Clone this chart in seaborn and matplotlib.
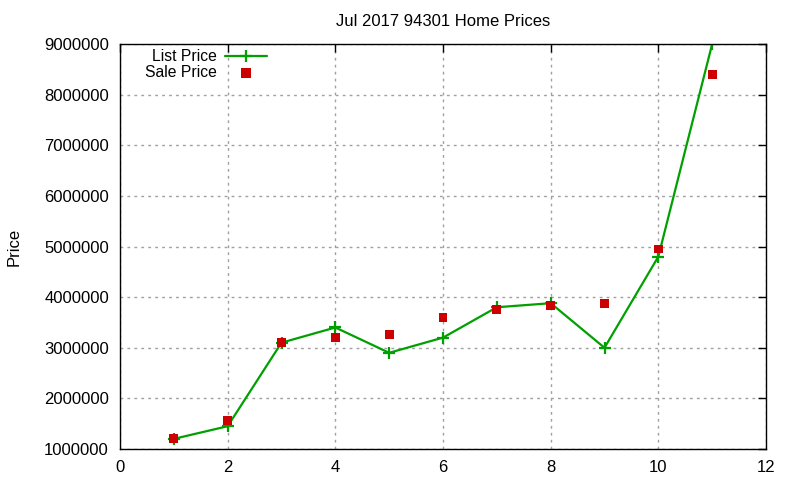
import matplotlib
matplotlib.use("Agg")
import matplotlib.pyplot as plt
import seaborn as sns
import pandas as pd

months = [1, 2, 3, 4, 5, 6, 7, 8, 9, 10, 11]
list_price = [1200000, 1450000, 3100000, 3400000, 2900000, 3200000, 3800000, 3880000, 3000000, 4800000, 9000000]
sale_price = [1200000, 1560000, 3110000, 3200000, 3260000, 3600000, 3760000, 3840000, 3880000, 4950000, 8400000]
x_ticks = [0, 2, 4, 6, 8, 10, 12]
y_ticks = [1000000, 2000000, 3000000, 4000000, 5000000, 6000000, 7000000, 8000000, 9000000]

sns.set_style("white")
plt.rcParams['font.family'] = ['Liberation Sans', 'DejaVu Sans']
plt.rcParams['text.color'] = 'black'
plt.rcParams['axes.labelcolor'] = 'black'

df = pd.DataFrame({"x": months, "list": list_price, "sale": sale_price})

fig = plt.figure(figsize=(8, 4.8), dpi=100)
ax = fig.add_axes([0.15, 0.0646, 0.8075, 0.8437])

green = "#00a000"
red = "#cc0000"
sns.lineplot(data=df, x="x", y="list", ax=ax, color=green, linewidth=1.6,
             marker="+", markersize=8, markeredgewidth=1.6, markeredgecolor=green,
             label="List Price")
sns.scatterplot(data=df, x="x", y="sale", ax=ax, color=red, marker="s", s=40,
                edgecolor="none", linewidth=0, label="Sale Price", zorder=3)

ax.set_xlim(0, 12)
ax.set_ylim(1000000, 9000000)
ax.set_xticks(x_ticks)
ax.set_yticks(y_ticks)
ax.set_xticklabels([str(t) for t in x_ticks])
ax.set_yticklabels([str(t) for t in y_ticks])
ax.tick_params(direction="in", length=6, width=1, top=True, right=True,
               labelsize=12, colors="black", pad=8)
ax.grid(True, color="#a0a0a0", linestyle=(0, (2, 3)), linewidth=1)
for s in ax.spines.values():
    s.set_color("black")
    s.set_linewidth(1)
ax.set_xlabel("")
ax.set_ylabel("Price", fontsize=12, labelpad=16, color="black")
ax.set_title("Jul 2017 94301 Home Prices", fontsize=12, pad=13, color="black")

leg = ax.legend(loc="upper left", bbox_to_anchor=(0.02, 1.018), frameon=False,
                markerfirst=False, fontsize=11.3, handlelength=2.65,
                labelspacing=0.05, borderpad=0.3, handletextpad=0.5)
for t in leg.get_texts():
    t.set_color("black")
h = leg.legend_handles[1]
if hasattr(h, "set_sizes"):
    h.set_sizes([60])
if hasattr(h, "set_markersize"):
    h.set_markersize(7.5)

fig.savefig("out.png", dpi=100)
